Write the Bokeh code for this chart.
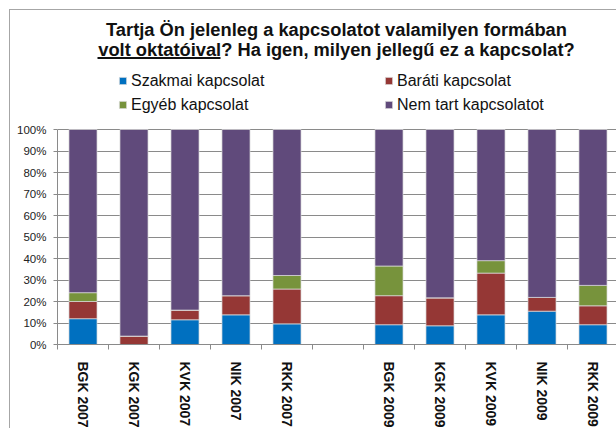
from bokeh.plotting import figure
from bokeh.models import (ColumnDataSource, FixedTicker, PrintfTickFormatter, Range1d,
                          Legend, LegendItem, Label, BoxAnnotation)
from bokeh.embed import file_html
from bokeh.resources import INLINE

# ---- data (percent) ----
slots = ["BGK 2007", "KGK 2007", "KVK 2007", "NIK 2007", "RKK 2007", "",
         "BGK 2009", "KGK 2009", "KVK 2009", "NIK 2009", "RKK 2009"]
series_names = ["Szakmai kapcsolat", "Baráti kapcsolat", "Egyéb kapcsolat", "Nem tart kapcsolatot"]
szakmai = [12.0, 0.0, 11.5, 13.8, 9.6, 9.2, 8.7, 13.8, 15.5, 9.2]
barati = [8.0, 3.9, 4.5, 8.9, 16.2, 13.5, 13.0, 19.4, 6.4, 8.8]
egyeb = [4.1, 0.0, 0.0, 0.0, 6.3, 13.8, 0.0, 5.8, 0.0, 9.5]
nem_tart = [75.9, 96.1, 84.0, 77.3, 67.9, 63.5, 78.3, 61.0, 78.1, 72.5]
colors = ["#0070C0", "#953735", "#77933C", "#604A7B"]
y_ticks = list(range(0, 101, 10))

title_line1 = "Tartja Ön jelenleg a kapcsolatot valamilyen formában"
title_line2 = "volt oktatóival? Ha igen, milyen jellegű ez a kapcsolat?"

labels = [s for s in slots if s]
xs = [i + 0.5 for i, s in enumerate(slots) if s]

src = ColumnDataSource(dict(x=xs, label=labels, s1=szakmai, s2=barati, s3=egyeb, s4=nem_tart))

FRAME_H = 334   # frame reaches up to the chart-area border, so title/legend are not clipped
PX_PER_PCT = 2.15
p = figure(width=606, height=418, output_backend="svg", toolbar_location=None,
           x_range=Range1d(0, 559 / 51), y_range=Range1d(0, FRAME_H / PX_PER_PCT),
           min_border_left=47, min_border_right=0, min_border_top=0, min_border_bottom=84,
           frame_width=559, frame_height=FRAME_H)
p.styles = {"margin-left": "9px", "margin-top": "9px",
            "border-left": "1px solid #a6a6a6", "border-top": "1px solid #a6a6a6"}
p.outline_line_color = None
p.background_fill_color = "white"
p.border_fill_color = "white"

renderers = p.vbar_stack(["s1", "s2", "s3", "s4"], x="x", width=0.55, source=src,
                         color=colors, line_color="#dcdcdc", line_width=0.7)

# grid
p.xgrid.grid_line_color = None
p.ygrid.ticker = FixedTicker(ticks=y_ticks)
p.ygrid.grid_line_color = "#8a8a8a"
p.ygrid.grid_line_width = 1

# y axis
p.yaxis.ticker = FixedTicker(ticks=y_ticks)
p.yaxis.bounds = (0, 100)
p.yaxis.formatter = PrintfTickFormatter(format="%d%%")
p.yaxis.axis_line_color = "#8a8a8a"
p.yaxis.major_tick_line_color = "#8a8a8a"
p.yaxis.major_tick_out = 4
p.yaxis.major_tick_in = 0
p.yaxis.minor_tick_line_color = None
p.yaxis.major_label_standoff = 7
p.yaxis.major_label_text_font = "Liberation Sans"
p.yaxis.major_label_text_font_size = "11.5px"
p.yaxis.major_label_text_color = "#222222"

# x axis: labels at centers, tick marks at slot boundaries
p.xaxis.ticker = FixedTicker(ticks=xs, minor_ticks=list(range(len(slots) + 1)))
p.xaxis.major_label_overrides = {x: l for x, l in zip(xs, labels)}
p.xaxis.major_label_orientation = "vertical"
p.xaxis.axis_line_color = "#8a8a8a"
p.xaxis.major_tick_line_color = None
p.xaxis.major_tick_out = 0
p.xaxis.major_tick_in = 0
p.xaxis.minor_tick_line_color = "#8a8a8a"
p.xaxis.minor_tick_out = 5
p.xaxis.minor_tick_in = 0
p.xaxis.major_label_standoff = 12
p.xaxis.major_label_text_font = "Liberation Sans"
p.xaxis.major_label_text_font_style = "bold"
p.xaxis.major_label_text_font_size = "14px"
p.xaxis.major_label_text_color = "#111111"

# legend
items = [LegendItem(label=n, renderers=[r]) for n, r in zip(series_names, renderers)]
legend = Legend(items=items, location=(61, 230), orientation="horizontal", ncols=2,
                glyph_width=9, glyph_height=9, label_standoff=4, label_width=248,
                label_height=19, spacing=5, padding=0, margin=0,
                label_text_font="Liberation Sans", label_text_font_size="16px",
                label_text_color="#111111",
                border_line_color=None, background_fill_alpha=0)
p.add_layout(legend, "center")

# title
t1 = Label(x=279, y=315, x_units="screen", y_units="screen", text=title_line1,
           text_align="center", text_baseline="alphabetic",
           text_font="Liberation Sans", text_font_style="bold", text_font_size="18.3px",
           text_color="#111111")
t2 = Label(x=279, y=295.5, x_units="screen", y_units="screen", text=title_line2,
           text_align="center", text_baseline="alphabetic",
           text_font="Liberation Sans", text_font_style="bold", text_font_size="18.3px",
           text_color="#111111")
p.add_layout(t1)
p.add_layout(t2)
underline = BoxAnnotation(left=40, right=163, bottom=285.5, top=287.5,
                          left_units="screen", right_units="screen",
                          bottom_units="screen", top_units="screen",
                          fill_color="#111111", fill_alpha=1, line_color=None)
p.add_layout(underline)

open("out.html", "w").write(file_html(p, INLINE))
